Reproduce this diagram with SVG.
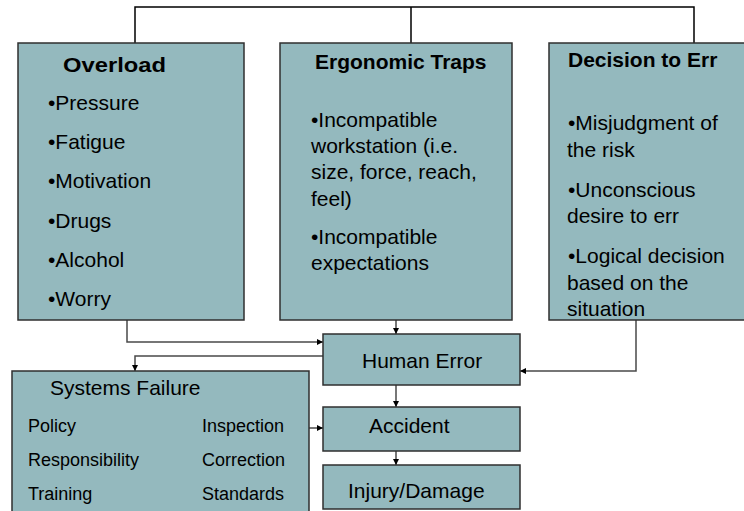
<svg xmlns="http://www.w3.org/2000/svg" width="744" height="511" viewBox="0 0 744 511">
<defs>
<style>
.box{fill:#94B9BE;stroke:#2f2f2f;stroke-width:1.5}
.t{font-family:"Liberation Sans",Arial,sans-serif;fill:#000}
.b{font-size:21px}
.h{font-size:21px;font-weight:bold}
.s{font-size:18px}
.c{fill:none;stroke:#4a4a4a;stroke-width:1.5}
.k{fill:none;stroke:#000;stroke-width:1.5}
</style>
<marker id="ah" viewBox="0 0 10 10" refX="10" refY="5" markerWidth="6" markerHeight="6" markerUnits="userSpaceOnUse" orient="auto">
<path d="M0,0 L10,5 L0,10 z" fill="#000"/>
</marker>
</defs>
<rect width="744" height="511" fill="#fff"/>
<g id="connectors">
<path class="k" d="M135,43 V7 H694 V43 M411,7 V43"/>
<path class="c" d="M127,320 V342 H323" marker-end="url(#ah)"/>
<path class="c" d="M396,320 V334" marker-end="url(#ah)"/>
<path class="c" d="M636,320 V371 H520" marker-end="url(#ah)"/>
<path class="c" d="M323,356 H135 V371" marker-end="url(#ah)"/>
<path class="c" d="M396,385 V407" marker-end="url(#ah)"/>
<path class="c" d="M396,451 V465" marker-end="url(#ah)"/>
<path class="c" d="M309,428 H323" marker-end="url(#ah)"/>
</g>
<g id="overload">
<rect class="box" x="18" y="43" width="226" height="277"/>
<text class="t h" x="63" y="72" textLength="103" lengthAdjust="spacingAndGlyphs">Overload</text>
<text class="t b" x="48" y="110">•Pressure</text>
<text class="t b" x="48" y="149">•Fatigue</text>
<text class="t b" x="48" y="188">•Motivation</text>
<text class="t b" x="48" y="228">•Drugs</text>
<text class="t b" x="48" y="267">•Alcohol</text>
<text class="t b" x="48" y="306">•Worry</text>
</g>
<g id="ergonomic">
<rect class="box" x="280" y="43" width="232" height="277"/>
<text class="t h" x="315" y="69">Ergonomic Traps</text>
<text class="t b" x="311" y="127">•Incompatible</text>
<text class="t b" x="311" y="153">workstation (i.e.</text>
<text class="t b" x="311" y="179">size, force, reach,</text>
<text class="t b" x="311" y="206">feel)</text>
<text class="t b" x="311" y="244">•Incompatible</text>
<text class="t b" x="311" y="270">expectations</text>
</g>
<g id="decision">
<rect class="box" x="549" y="43" width="205" height="277"/>
<text class="t h" x="568" y="67">Decision to Err</text>
<text class="t b" x="568" y="130">•Misjudgment of</text>
<text class="t b" x="567" y="157">the risk</text>
<text class="t b" x="568" y="197">•Unconscious</text>
<text class="t b" x="567" y="223">desire to err</text>
<text class="t b" x="568" y="263">•Logical decision</text>
<text class="t b" x="567" y="290">based on the</text>
<text class="t b" x="567" y="316">situation</text>
</g>
<g id="human-error">
<rect class="box" x="323" y="334" width="197" height="51"/>
<text class="t b" x="362" y="368">Human Error</text>
</g>
<g id="systems-failure">
<rect class="box" x="12" y="371" width="297" height="150"/>
<text class="t b" x="50" y="395">Systems Failure</text>
<text class="t s" x="28" y="432">Policy</text>
<text class="t s" x="28" y="466">Responsibility</text>
<text class="t s" x="28" y="500">Training</text>
<text class="t s" x="202" y="432">Inspection</text>
<text class="t s" x="202" y="466">Correction</text>
<text class="t s" x="202" y="500">Standards</text>
</g>
<g id="accident">
<rect class="box" x="323" y="407" width="197" height="44"/>
<text class="t b" x="369" y="433">Accident</text>
</g>
<g id="injury">
<rect class="box" x="323" y="465" width="197" height="44"/>
<text class="t b" x="348" y="498">Injury/Damage</text>
</g>
</svg>
